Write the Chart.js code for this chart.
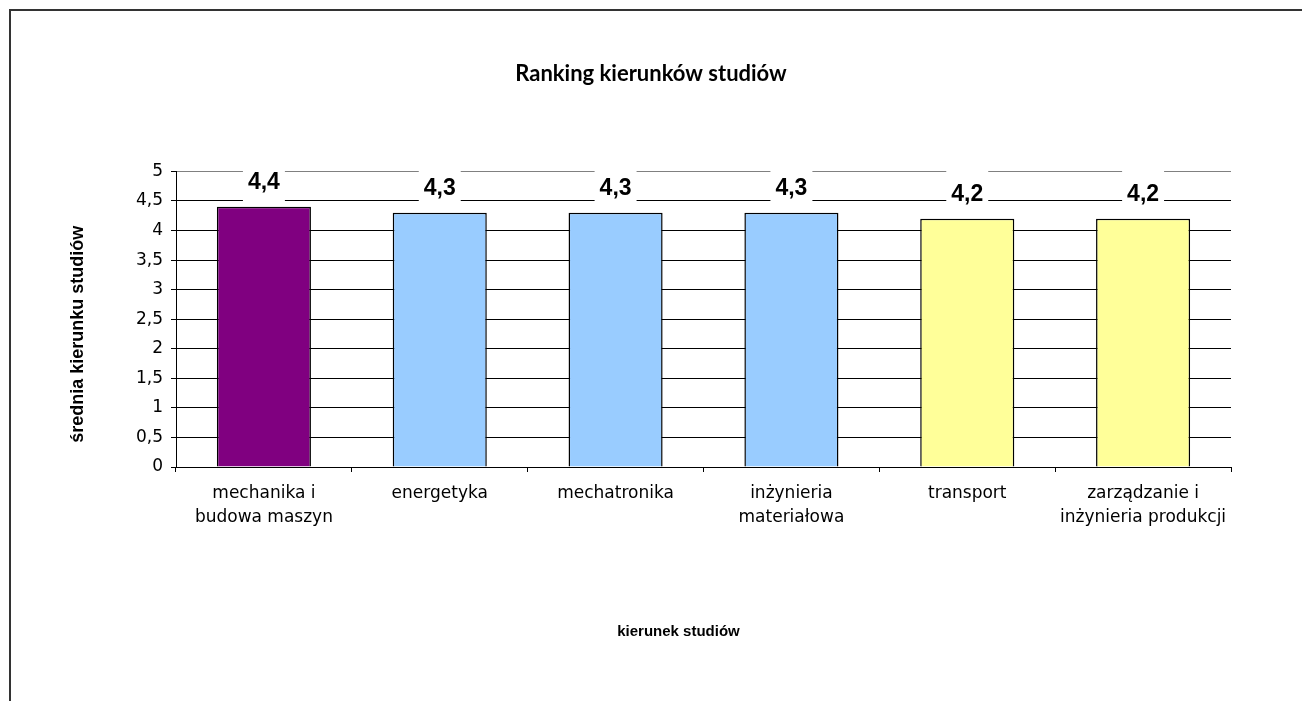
<!DOCTYPE html>
<html lang="pl">
<head>
<meta charset="utf-8">
<title>Ranking kierunków studiów</title>
<script src="https://cdn.jsdelivr.net/npm/chart.js@4.4.1/dist/chart.umd.min.js"></script>
<style>
  html, body { margin: 0; padding: 0; background: #fff; overflow: hidden; }
  #frame { position: absolute; left: 9px; top: 9px; width: 1400px; height: 800px; border-left: 2px solid #333; border-top: 2px solid #333; }
  #wrap { position: absolute; left: 0; top: 0; width: 1302px; height: 701px; }
</style>
</head>
<body>
<div id="frame"></div>
<div id="wrap"><canvas id="rankingChart"></canvas></div>
<script>
const categories = [['mechanika i', 'budowa maszyn'], 'energetyka', 'mechatronika', ['inżynieria', 'materiałowa'], 'transport', ['zarządzanie i', 'inżynieria produkcji']];
const averages = [4.4, 4.3, 4.3, 4.3, 4.2, 4.2];
const yTickLabels = ['0', '0,5', '1', '1,5', '2', '2,5', '3', '3,5', '4', '4,5', '5'];

const barColors = ['#800080', '#99CCFF', '#99CCFF', '#99CCFF', '#FFFF99', '#FFFF99'];

// value labels above bars, with white box that hides the gridlines
const valueLabels = {
    id: 'valueLabels',
    afterDatasetsDraw(chart) {
        const ctx = chart.ctx;
        const meta = chart.getDatasetMeta(0);
        ctx.save();
        ctx.font = 'bold 23px "Liberation Sans", Arial, sans-serif';
        ctx.textAlign = 'center';
        ctx.textBaseline = 'alphabetic';
        meta.data.forEach((bar, i) => {
            const text = averages[i].toFixed(1).replace('.', ',');
            const w = ctx.measureText(text).width;
            const y = bar.y - 18;
            ctx.fillStyle = '#fff';
            ctx.fillRect(bar.x - w / 2 - 5, y - 30, w + 10, 43);
            ctx.fillStyle = '#000';
            ctx.fillText(text, bar.x, y);
        });
        ctx.restore();
    }
};

// trailing spaces nudge the axis titles off the plot centre, like the original
const pad = n => '\u00A0'.repeat(n);

const ctx = document.getElementById('rankingChart').getContext('2d');
const rankingChart = new Chart(ctx, {
    type: 'bar',
    data: {
        labels: categories,
        datasets: [{
            data: averages,
            backgroundColor: barColors,
            borderColor: '#000',
            borderWidth: 1.5,
            barPercentage: 0.535,
            categoryPercentage: 1
        }]
    },
    options: {
        responsive: true,
        maintainAspectRatio: false,
        animation: false,
        devicePixelRatio: 1,
        layout: { padding: 0 },
        plugins: {
            legend: { display: false },
            tooltip: { enabled: false },
            title: {
                display: true,
                text: 'Ranking kierunków studiów',
                color: '#000',
                font: { family: 'Lato', weight: 'bold', size: 22 },
                padding: { top: 61, bottom: 84 }
            }
        },
        scales: {
            x: {
                grid: {
                    offset: true,
                    drawOnChartArea: true,
                    color: c => c.index === categories.length ? '#808080' : 'rgba(0,0,0,0)',
                    tickColor: '#000',
                    tickLength: 5
                },
                border: { color: '#000', width: 1 },
                ticks: {
                    color: '#000',
                    font: { family: 'DejaVu Sans', size: 17, lineHeight: 1.45 },
                    padding: 9,
                    maxRotation: 0,
                    autoSkip: false
                },
                title: {
                    display: true,
                    text: 'kierunek studiów' + pad(12),
                    color: '#000',
                    font: { family: 'Liberation Sans', weight: 'bold', size: 15 },
                    padding: { top: 0, bottom: 60 }
                },
                afterFit: s => { s.height = 234; }
            },
            y: {
                min: 0,
                max: 5,
                ticks: {
                    stepSize: 0.5,
                    color: '#000',
                    font: { family: 'DejaVu Sans', size: 17 },
                    padding: 8,
                    callback: (v, i) => yTickLabels[i]
                },
                grid: {
                    color: c => (c.tick && c.tick.value === 5) ? '#808080' : '#000',
                    tickColor: '#000',
                    tickLength: 5
                },
                border: { color: '#000', width: 1 },
                title: {
                    display: true,
                    text: 'średnia kierunku studiów' + pad(6),
                    color: '#000',
                    font: { family: 'Liberation Sans', weight: 'bold', size: 18 },
                    padding: { top: 67, bottom: 0 }
                },
                afterFit: s => { s.width = 176; }
            },
            // empty right margin so the main title centres on the whole page
            margin: {
                type: 'linear',
                position: 'right',
                display: true,
                grid: { display: false },
                border: { display: false },
                ticks: { display: false },
                afterFit: s => { s.width = 71; }
            }
        }
    },
    plugins: [valueLabels]
});
</script>
</body>
</html>
